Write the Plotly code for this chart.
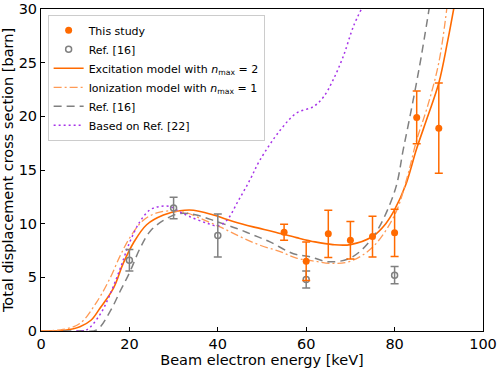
import plotly.graph_objects as go

# measured points
study_e = [55, 60, 65, 70, 75, 80, 85, 90]
study_sigma = [9.2, 6.5, 9.05, 8.45, 8.8, 9.15, 19.9, 18.9]
study_err = [0.75, 1.8, 2.2, 1.75, 1.9, 2.2, 2.45, 4.2]

ref16_e = [20, 30, 40, 60, 80]
ref16_sigma = [6.6, 11.45, 8.9, 4.8, 5.2]
ref16_err = [1.0, 1.0, 2.0, 0.8, 0.8]

# model curves
exc_e = [0, 5, 8.8, 11.3, 13.3, 16.4, 18.6, 20.9, 23.9, 27.7, 31.4, 34.5, 39, 43.5, 48,
         52.6, 57.8, 62, 66, 70, 75, 78, 80, 82.5, 85, 87.5, 90, 92, 93.5]
exc_sigma = [0, 0.05, 0.4, 1.0, 2.1, 4.0, 6.3, 8.2, 9.9, 10.8, 11.2, 11.25, 10.8, 10.2, 9.7,
             9.25, 8.7, 8.3, 8.05, 8.05, 8.8, 10.0, 11.3, 13.6, 17.0, 20.0, 23.1, 27.0, 30.3]

ion_e = [0, 5, 8.8, 12.6, 15.6, 17.9, 20.1, 23.1, 26.2, 29.9, 33, 36, 40.5, 45, 49.5,
         54.1, 57.8, 62, 66, 70, 75, 80, 82.9, 85, 87.5, 90, 91.8]
ion_sigma = [0, 0.15, 0.7, 2.7, 4.9, 7.0, 8.7, 10.3, 11.0, 11.2, 11.0, 10.5, 9.7, 8.8, 8.0,
             7.4, 6.8, 6.5, 6.3, 6.5, 7.8, 10.8, 14.4, 17.8, 21.0, 25.0, 30.0]

ref16c_e = [5, 9, 12.6, 15.6, 17.9, 20.1, 22.4, 24.7, 27.7, 31.4, 35.2, 39.7, 44.3, 48,
            51.8, 57.1, 61, 65, 70, 75, 80, 82, 84.2, 86, 87.8]
ref16c_sigma = [0, 0.02, 0.1, 1.8, 3.7, 5.5, 7.7, 9.3, 10.3, 10.95, 10.8, 10.2, 9.55, 8.95,
                8.3, 7.2, 6.9, 6.45, 6.8, 8.7, 13.0, 17.0, 21.5, 25.5, 30.0]

ref22_e = [8, 10.3, 13.3, 15.6, 17.9, 20.1, 22.4, 24.7, 26.9, 29.2, 31.4, 33.7, 37.5, 40,
           42, 44.6, 47.3, 49.5, 54.1, 57.8, 61.6, 63.9, 66.1, 68.4, 70.7, 72.5]
ref22_sigma = [0, 0.1, 1.5, 3.4, 5.8, 8.3, 10.2, 11.3, 11.6, 11.6, 11.1, 10.65, 10.05, 9.8,
               10.3, 12.1, 14.1, 15.9, 18.7, 20.3, 20.9, 21.8, 23.4, 25.6, 28.4, 30.0]

orange = "#ff6a00"
light_orange = "#ff9a55"
gray = "#808080"
purple = "#a633e8"

fig = go.Figure()

fig.add_trace(go.Scatter(x=exc_e, y=exc_sigma, mode="lines", legendrank=3,
                         name="Excitation model with <i>n</i><sub>max</sub> = 2",
                         line=dict(color=orange, width=1.6, shape="spline")))
fig.add_trace(go.Scatter(x=ion_e, y=ion_sigma, mode="lines", legendrank=4,
                         name="Ionization model with <i>n</i><sub>max</sub> = 1",
                         line=dict(color=light_orange, width=1.3, shape="spline",
                                   dash="8px,3px,2px,3px")))
fig.add_trace(go.Scatter(x=ref16c_e, y=ref16c_sigma, mode="lines", legendrank=5,
                         name="Ref. [16]",
                         line=dict(color=gray, width=1.5, shape="spline", dash="8px,5px")))
fig.add_trace(go.Scatter(x=ref22_e, y=ref22_sigma, mode="lines", legendrank=6,
                         name="Based on Ref. [22]",
                         line=dict(color=purple, width=1.5, shape="spline", dash="2px,3px")))

fig.add_trace(go.Scatter(x=ref16_e, y=ref16_sigma, mode="markers", legendrank=2,
                         name="Ref. [16]",
                         marker=dict(symbol="circle-open", color=gray, size=6,
                                     line=dict(width=1.5, color=gray)),
                         error_y=dict(type="data", array=ref16_err, color=gray,
                                      thickness=1.5, width=4)))
fig.add_trace(go.Scatter(x=study_e, y=study_sigma, mode="markers", legendrank=1,
                         name="This study",
                         marker=dict(symbol="circle", color=orange, size=7),
                         error_y=dict(type="data", array=study_err, color=orange,
                                      thickness=1.5, width=4)))

axis_common = dict(showgrid=False, zeroline=False, showline=True, linecolor="black",
                   linewidth=1, mirror=True, ticks="inside", ticklen=4, automargin=False,
                   tickcolor="black", tickfont=dict(size=14.5, color="black"))

fig.update_layout(
    width=498, height=370,
    margin=dict(l=41, r=15, t=9, b=39),
    plot_bgcolor="white", paper_bgcolor="white",
    font=dict(family="DejaVu Sans", size=14.5, color="black"),
    xaxis=dict(range=[0, 100], tickvals=[0, 20, 40, 60, 80, 100],
               title=dict(text="Beam electron energy [keV]", standoff=0, font=dict(size=14.5)),
               **axis_common),
    yaxis=dict(range=[0, 30], tickvals=[0, 5, 10, 15, 20, 25, 30],
               title=dict(text="Total displacement cross section [barn]", standoff=2,
                          font=dict(size=14.5)),
               **axis_common),
    legend=dict(x=0.015, y=0.982, xanchor="left", yanchor="top",
                bgcolor="rgba(255,255,255,0.85)", bordercolor="#cccccc", borderwidth=1,
                font=dict(size=11), tracegroupgap=0, itemwidth=30),
    showlegend=True,
)

# drop the default page margin so the figure sits at the window's corner
fig.write_html("out.html", config={"displayModeBar": False},
               post_script="document.body.style.margin='0px';")
